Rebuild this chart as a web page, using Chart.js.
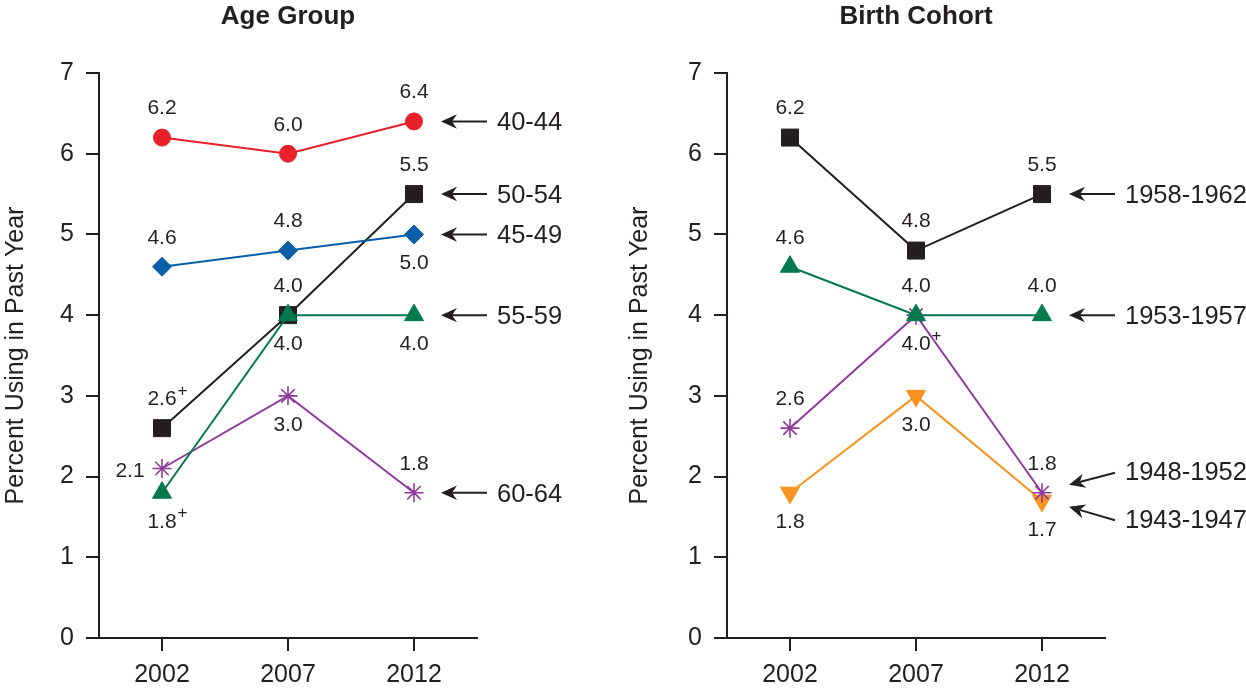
<!DOCTYPE html>
<html><head><meta charset="utf-8">
<script src="https://cdn.jsdelivr.net/npm/chart.js@4.4.1/dist/chart.umd.min.js"></script>
<style>
html,body{margin:0;padding:0;background:#fff;}
#wrap{position:relative;width:1246px;height:698px;overflow:hidden;}
.box{position:absolute;top:0;width:623px;height:698px;}
</style></head><body>
<div id="wrap">
<div class="box" style="left:0"><canvas id="c1" width="623" height="698"></canvas></div>
<div class="box" style="left:623px"><canvas id="c2" width="623" height="698"></canvas></div>
</div>
<script>
// ---------- data ----------
const years = ['2002', '2007', '2012'];
const yTicks = [0, 1, 2, 3, 4, 5, 6, 7];

const ageTitle = 'Age Group';
const ageNames = ['40-44', '45-49', '50-54', '55-59', '60-64'];
const age4044 = [6.2, 6.0, 6.4];
const age4549 = [4.6, 4.8, 5.0];
const age5054 = [2.6, 4.0, 5.5];
const age5559 = [1.8, 4.0, 4.0];
const age6064 = [2.1, 3.0, 1.8];
const age5054Notes = ['+', '', ''];
const age5559Notes = ['+', '', ''];

const cohortTitle = 'Birth Cohort';
const cohortNames = ['1958-1962', '1953-1957', '1948-1952', '1943-1947'];
const coh5862 = [6.2, 4.8, 5.5];
const coh5357 = [4.6, 4.0, 4.0];
const coh4852 = [2.6, 4.0, 1.8];
const coh4347 = [1.8, 3.0, 1.7];
const coh4852Notes = ['', '+', ''];

const yTitle = 'Percent Using in Past Year';

// ---------- styles ----------
const FONT = '"Liberation Sans", Arial, Helvetica, sans-serif';
const INK = '#231f20';
const RED = '#e8202a', BLUE = '#0a5fa8', BLACK = '#231f20', GREEN = '#007a4d', PURPLE = '#8e3b9c', ORANGE = '#f7931e';
const NONE = ['', '', ''];

function drawArrow(ctx, x1, y1, x2, y2) {
  const ang = Math.atan2(y2 - y1, x2 - x1);
  const L = 16, W = 7.2, back = 5;
  ctx.save();
  ctx.strokeStyle = INK; ctx.fillStyle = INK; ctx.lineWidth = 2;
  ctx.beginPath(); ctx.moveTo(x1, y1);
  ctx.lineTo(x2 - Math.cos(ang) * (L - back), y2 - Math.sin(ang) * (L - back)); ctx.stroke();
  ctx.translate(x2, y2); ctx.rotate(ang);
  ctx.beginPath(); ctx.moveTo(0, 0); ctx.lineTo(-L, -W); ctx.lineTo(-L + back, 0); ctx.lineTo(-L, W); ctx.closePath(); ctx.fill();
  ctx.restore();
}

const annot = {
  id: 'annot',
  afterDatasetsDraw(chart, args, opts) {
    const ctx = chart.ctx, ca = chart.chartArea;
    ctx.save();
    ctx.fillStyle = INK;
    ctx.font = 'bold 26px ' + FONT; ctx.textAlign = 'center'; ctx.textBaseline = 'middle';
    ctx.fillText(opts.title, (ca.left + ca.right) / 2, 17);
    chart.data.datasets.forEach((ds, di) => {
      const meta = chart.getDatasetMeta(di);
      ds.data.forEach((v, i) => {
        const pt = meta.data[i];
        const pos = ds.labelPos[i];
        let x = pt.x, y = pt.y;
        if (pos === 'above') y -= 29; else if (pos === 'below') y += 29; else if (pos === 'left') { x -= 32; y += 3; }
        const txt = v.toFixed(1);
        ctx.fillStyle = INK;
        ctx.font = '21px ' + FONT; ctx.textAlign = 'center'; ctx.textBaseline = 'middle';
        ctx.fillText(txt, x, y);
        const note = ds.notes[i];
        if (note) {
          const w = ctx.measureText(txt).width;
          ctx.font = '17px ' + FONT; ctx.textAlign = 'left';
          ctx.fillText(note, x + w / 2 + 1, y - 8);
        }
      });
      const last = meta.data[meta.data.length - 1];
      const a = ds.arrow;
      drawArrow(ctx, ca.right + 10, last.y + a.tailDy, ca.right - 36, last.y + a.tipDy);
      ctx.fillStyle = INK;
      ctx.font = '25.5px ' + FONT; ctx.textAlign = 'left'; ctx.textBaseline = 'middle';
      ctx.fillText(ds.label, ca.right + 20, last.y + a.textDy);
    });
    ctx.restore();
  }
};

function ds(label, data, color, style, radius, labelPos, notes, arrow, order, rot) {
  return {
    label, data, order,
    borderColor: color, backgroundColor: color, borderWidth: 2,
    pointStyle: style, pointRadius: radius, pointRotation: rot || 0,
    pointBackgroundColor: color, pointBorderColor: color,
    pointBorderWidth: style === 'star' ? 1.6 : 1,
    labelPos, notes, arrow
  };
}

const straight = { tipDy: 0, tailDy: 0, textDy: 2 };

function makeChart(id, title, datasets, yWidth, padRight, titlePad) {
  return new Chart(document.getElementById(id), {
    type: 'line',
    data: { labels: years, datasets },
    options: {
      responsive: false, animation: false, events: [],
      layout: { padding: { top: 73, right: padRight, bottom: 0, left: 0 } },
      plugins: { legend: { display: false }, tooltip: { enabled: false }, annot: { title } },
      scales: {
        x: {
          type: 'category', offset: true,
          grid: { offset: false, drawOnChartArea: false, drawTicks: true, tickLength: 13, color: INK, lineWidth: 2 },
          border: { color: INK, width: 2 },
          ticks: { color: INK, font: { family: FONT, size: 25 }, padding: 9 },
          afterFit(s) { s.height = 60; }
        },
        y: {
          min: 0, max: 7,
          afterBuildTicks(s) { s.ticks = yTicks.map(v => ({ value: v })); },
          grid: { drawOnChartArea: false, drawTicks: true, tickLength: 13, color: INK, lineWidth: 2 },
          border: { color: INK, width: 2 },
          ticks: { color: INK, font: { family: FONT, size: 25 }, padding: 12 },
          title: { display: true, text: yTitle, color: INK, font: { family: FONT, size: 25 }, padding: { top: titlePad, bottom: 0 } },
          afterFit(s) { s.width = yWidth; }
        }
      }
    },
    plugins: [annot]
  });
}

makeChart('c1', ageTitle, [
  ds(ageNames[0], age4044, RED, 'circle', 8.5, ['above', 'above', 'above'], NONE, straight, 0),
  ds(ageNames[1], age4549, BLUE, 'rectRot', 9.5, ['above', 'above', 'below'], NONE, straight, 1),
  ds(ageNames[2], age5054, BLACK, 'rect', 12, ['above', 'above', 'above'], age5054Notes, straight, 4),
  ds(ageNames[3], age5559, GREEN, 'triangle', 11, ['below', 'below', 'below'], age5559Notes, straight, 2),
  ds(ageNames[4], age6064, PURPLE, 'star', 9.5, ['left', 'below', 'above'], NONE, straight, 3)
], 99, 146, 1);

makeChart('c2', cohortTitle, [
  ds(cohortNames[0], coh5862, BLACK, 'rect', 12, ['above', 'above', 'above'], NONE, straight, 3),
  ds(cohortNames[1], coh5357, GREEN, 'triangle', 11, ['above', 'above', 'above'], NONE, straight, 0),
  ds(cohortNames[2], coh4852, PURPLE, 'star', 9.5, ['above', 'below', 'above'], coh4852Notes, { tipDy: -8, tailDy: -20, textDy: -20 }, 1),
  ds(cohortNames[3], coh4347, ORANGE, 'triangle', 11, ['below', 'below', 'below'], NONE, { tipDy: 6, tailDy: 19.5, textDy: 20 }, 2, 180)
], 104, 141, 2);
</script>
</body></html>
